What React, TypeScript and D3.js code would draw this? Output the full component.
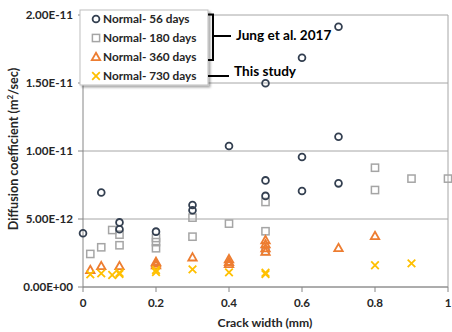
import React from "react";
import * as d3 from "d3";

const W = 452;
const H = 332;

const xTicks = [0, 0.2, 0.4, 0.6, 0.8, 1];
const yTicks = [0, 5e-12, 1e-11, 1.5e-11, 2e-11];
const yTickLabels = ["0.00E+00", "5.00E-12", "1.00E-11", "1.50E-11", "2.00E-11"];

const d56x = [0, 0.05, 0.1, 0.1, 0.2, 0.3, 0.3, 0.4, 0.5, 0.5, 0.5, 0.6, 0.6, 0.6, 0.7, 0.7, 0.7];
const d56y = [3.95, 6.95, 4.75, 4.25, 4.07, 6.03, 5.64, 10.37, 14.98, 7.84, 6.7, 16.86, 9.56, 7.06, 19.14, 11.05, 7.62];

const d180x = [0.02, 0.05, 0.08, 0.1, 0.1, 0.2, 0.2, 0.2, 0.3, 0.3, 0.4, 0.5, 0.5, 0.5, 0.8, 0.8, 0.9, 1.0];
const d180y = [2.43, 2.92, 4.19, 3.85, 3.07, 3.6, 3.3, 2.85, 5.1, 3.7, 4.66, 6.25, 4.1, 2.65, 8.77, 7.13, 7.97, 7.97];

const d360x = [0.02, 0.05, 0.1, 0.2, 0.2, 0.2, 0.3, 0.4, 0.4, 0.4, 0.5, 0.5, 0.5, 0.5, 0.7, 0.8];
const d360y = [1.25, 1.54, 1.54, 1.6, 1.75, 1.85, 2.18, 2.05, 1.85, 1.7, 3.45, 3.15, 2.85, 2.6, 2.87, 3.75];

const d730x = [0.02, 0.05, 0.08, 0.1, 0.1, 0.2, 0.2, 0.3, 0.4, 0.5, 0.5, 0.8, 0.9];
const d730y = [0.93, 1.0, 0.88, 0.96, 1.05, 1.25, 1.1, 1.3, 1.08, 1.05, 0.95, 1.6, 1.74];

const seriesNames = ["Normal- 56 days", "Normal- 180 days", "Normal- 360 days", "Normal- 730 days"];
const seriesColors = ["#333F50", "#A5A5A5", "#ED7D31", "#FFC000"];

const FONT = "Lato, 'Liberation Sans', sans-serif";

const left = 83, right = 448, top = 15, bottom = 287;

function Marker({ kind, cx, cy, color }: { kind: number; cx: number; cy: number; color: string }) {
  if (kind === 0) {
    return <circle cx={cx} cy={cy} r={3.4} fill="none" stroke={color} strokeWidth={1.8} />;
  }
  if (kind === 1) {
    return <rect x={cx - 3.6} y={cy - 3.6} width={7.2} height={7.2} fill="none" stroke={color} strokeWidth={1.5} />;
  }
  if (kind === 2) {
    const s = 4.2;
    const p = `M${cx},${cy - s} L${cx + s},${cy + s * 0.75} L${cx - s},${cy + s * 0.75} Z`;
    return <path d={p} fill="none" stroke={color} strokeWidth={1.8} strokeLinejoin="miter" />;
  }
  const s = 3.8;
  return (
    <path
      d={`M${cx - s},${cy - s} L${cx + s},${cy + s} M${cx - s},${cy + s} L${cx + s},${cy - s}`}
      stroke={color}
      strokeWidth={1.8}
      fill="none"
    />
  );
}

export default function App() {
  const x = d3.scaleLinear().domain([0, 1]).range([left, right]);
  const y = d3.scaleLinear().domain([0, 2e-11]).range([bottom, top]);

  const series = [
    { xs: d56x, ys: d56y },
    { xs: d180x, ys: d180y },
    { xs: d360x, ys: d360y },
    { xs: d730x, ys: d730y },
  ];
  const drawOrder = [1, 0, 2, 3];

  return (
    <svg width={W} height={H} style={{ position: "absolute", left: 0, top: 0, background: "#fff" }}>
      <defs>
        <filter id="sh" x="-10%" y="-10%" width="130%" height="140%">
          <feDropShadow dx="2" dy="2" stdDeviation="1.2" floodColor="#000" floodOpacity="0.35" />
        </filter>
      </defs>
      {/* gridlines */}
      {yTicks.map((t, i) => (
        <line key={"g" + i} x1={left} x2={right} y1={y(t)} y2={y(t)} stroke="#A6A6A6" strokeWidth={1} />
      ))}
      {/* right border */}
      <line x1={right} x2={right} y1={top} y2={bottom} stroke="#A6A6A6" strokeWidth={1} />
      {/* axes */}
      <line x1={left} x2={left} y1={top} y2={bottom} stroke="#868686" strokeWidth={1} />
      <line x1={left} x2={right} y1={bottom} y2={bottom} stroke="#868686" strokeWidth={1} />
      {yTicks.map((t, i) => (
        <line key={"yt" + i} x1={left - 5} x2={left} y1={y(t)} y2={y(t)} stroke="#868686" />
      ))}
      {xTicks.map((t, i) => (
        <line key={"xt" + i} x1={x(t)} x2={x(t)} y1={bottom} y2={bottom + 5} stroke="#868686" />
      ))}
      {yTicks.map((t, i) => (
        <text key={"yl" + i} x={73} y={y(t)} dy="0.35em" textAnchor="end" fontFamily={FONT} fontWeight="bold" fontSize={11.6} fill="#262626">
          {yTickLabels[i]}
        </text>
      ))}
      {xTicks.map((t, i) => (
        <text key={"xl" + i} x={x(t)} y={303} dy="0.35em" textAnchor="middle" fontFamily={FONT} fontWeight="bold" fontSize={11.6} fill="#262626">
          {d3.format("")(t)}
        </text>
      ))}
      <text x={265} y={323} dy="0.35em" textAnchor="middle" fontFamily={FONT} fontWeight="bold" fontSize={12.2} fill="#262626">
        Crack width (mm)
      </text>
      <text
        transform="translate(14,149) rotate(-90)"
        textAnchor="middle"
        dy="0.35em"
        fontFamily={FONT}
        fontWeight="bold"
        fontSize={12.6}
        fill="#262626"
      >
        Diffusion coefficient (m<tspan baselineShift="super" fontSize={8}>2</tspan>/sec)
      </text>
      {/* markers */}
      {drawOrder.map((si) =>
        series[si].xs.map((xv, j) => (
          <Marker key={si + "-" + j} kind={si} cx={x(xv)} cy={y(series[si].ys[j] * 1e-12)} color={seriesColors[si]} />
        ))
      )}
      {/* legend */}
      <rect x={80} y={10} width={128} height={75} fill="#fff" stroke="#BFBFBF" strokeWidth={1} filter="url(#sh)" />
      {seriesNames.map((n, i) => (
        <g key={"lg" + i}>
          <Marker kind={i} cx={96} cy={19 + i * 19} color={seriesColors[i]} />
          <text x={103} y={19 + i * 19} dy="0.35em" fontFamily={FONT} fontWeight="bold" fontSize={11.8} fill="#262626">
            {n}
          </text>
        </g>
      ))}
      {/* bracket annotations */}
      <path d="M208,14.5 L213,14.5 L213,60 L208,60" fill="none" stroke="#000" strokeWidth={2} />
      <line x1={213} x2={231} y1={36} y2={36} stroke="#000" strokeWidth={2} />
      <text x={236} y={35} dy="0.35em" fontFamily={FONT} fontWeight="bold" fontSize={13.6} fill="#000">
        Jung et al. 2017
      </text>
      <line x1={208} x2={229} y1={76} y2={76} stroke="#000" strokeWidth={2} />
      <text x={234} y={71} dy="0.35em" fontFamily={FONT} fontWeight="bold" fontSize={13.6} fill="#000">
        This study
      </text>
    </svg>
  );
}
